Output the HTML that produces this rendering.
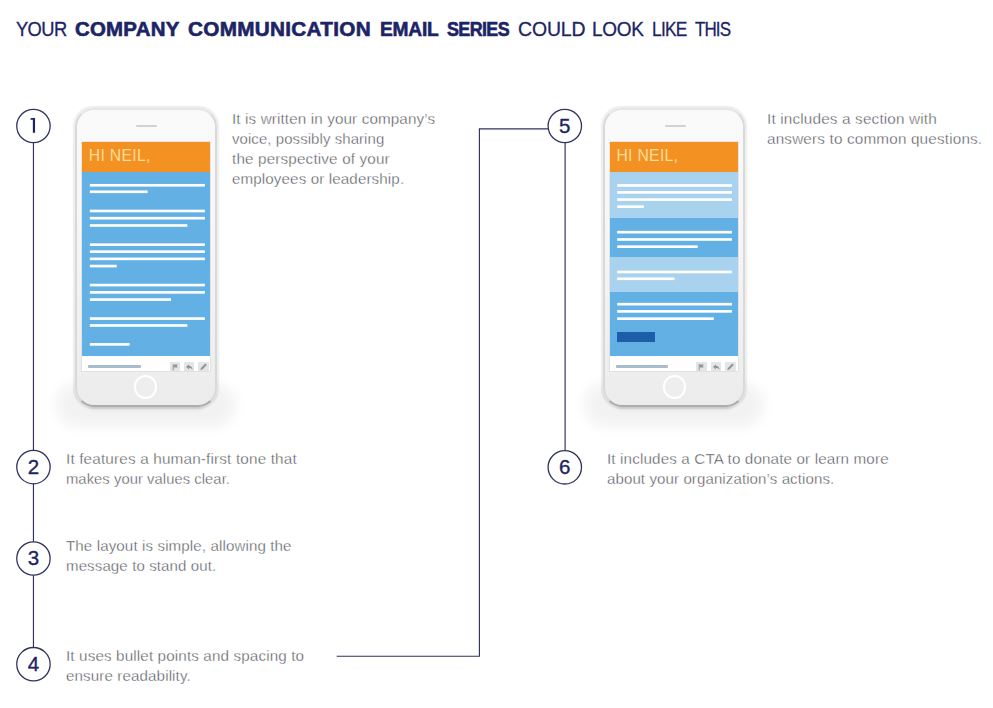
<!DOCTYPE html>
<html><head><meta charset="utf-8"><title>Company Communication Email Series</title>
<style>
html,body{margin:0;padding:0;background:#fff;}
body{width:993px;height:708px;position:relative;overflow:hidden;font-family:"Liberation Sans",sans-serif;}
.t{position:absolute;white-space:nowrap;line-height:1;transform-origin:0 50%;}
.b{color:#4a4c52;font-size:14.5px;-webkit-text-stroke:0.36px #fff;}
.h{color:#1c2465;font-size:19.8px;}
.ln{position:absolute;background:#1c2465;}
.c{position:absolute;width:33.2px;height:33.2px;border:1.3px solid #1c2465;border-radius:50%;box-sizing:content-box;background:#fff;
   color:#1c2465;font-size:20.5px;text-align:center;line-height:33.6px;}
.phone{position:absolute;width:142px;height:299px;}
.phone .shadow{position:absolute;left:-8px;right:-8px;top:286px;height:22px;border-radius:10px;background:rgba(0,0,0,.05);box-shadow:0 0 13px 11px rgba(0,0,0,.05);}
.phone .shadow2{position:absolute;left:14px;right:14px;top:288px;height:9px;border-radius:4px;box-shadow:0 3px 5px 0 rgba(0,0,0,.17);}
.phone .bodyp{position:absolute;left:0;top:0;right:0;bottom:0;border-radius:19px;box-sizing:border-box;
   border:2px solid;border-width:2px 2px 2.6px 2px;border-color:#e6e6e6 #d9d9d9 #adadad #d9d9d9;background:linear-gradient(#fafafa 0%,#f6f6f6 40%,#ececec 100%);box-shadow:0 0 1.2px 1.3px rgba(0,0,0,.075);}
.phone .spk{position:absolute;left:61px;top:17.6px;width:21px;height:1.3px;background:#d2d2d2;border-radius:1px;}
.phone .scr{position:absolute;left:7.0px;top:33.9px;width:128px;height:229.4px;background:#fff;overflow:hidden;box-shadow:0 0 0 .6px #dadada;}
.phone .home{position:absolute;left:59.2px;top:267.4px;width:19.6px;height:19.6px;border:2.2px solid #fff;border-radius:50%;background:#eeeeee;}
.or{position:absolute;left:0;top:0;width:100%;height:30px;background:#f39222;}
.hi{position:absolute;left:7.3px;top:6.8px;font-size:15.7px;line-height:1;color:#fbdd9c;white-space:nowrap;}
.w{position:absolute;height:2.8px;background:#fff;}
.sec{position:absolute;left:0;width:100%;}
.ft{position:absolute;left:0;top:214px;width:100%;height:15.4px;background:#fff;}
.ft i{position:absolute;display:block;}
</style></head><body>
<div class="t h" style="left:16.4px;top:19.7px;letter-spacing:-0.65px;transform:scaleX(0.9258);-webkit-text-stroke:0.3px #1c2465;">YOUR</div>
<div class="t h" style="left:75.0px;top:19.7px;letter-spacing:0.23px;transform:scaleX(1.0327);font-weight:bold;-webkit-text-stroke:0.6px #1c2465;">COMPANY</div>
<div class="t h" style="left:188.3px;top:19.7px;letter-spacing:0.28px;transform:scaleX(1.0472);font-weight:bold;-webkit-text-stroke:0.6px #1c2465;">COMMUNICATION</div>
<div class="t h" style="left:379.7px;top:19.7px;letter-spacing:-0.22px;transform:scaleX(0.9676);font-weight:bold;-webkit-text-stroke:0.6px #1c2465;">EMAIL</div>
<div class="t h" style="left:447.0px;top:19.7px;letter-spacing:-0.66px;transform:scaleX(0.9039);font-weight:bold;-webkit-text-stroke:0.6px #1c2465;">SERIES</div>
<div class="t h" style="left:517.7px;top:19.7px;letter-spacing:-0.13px;transform:scaleX(0.9823);-webkit-text-stroke:0.3px #1c2465;">COULD</div>
<div class="t h" style="left:592.4px;top:19.7px;letter-spacing:-0.32px;transform:scaleX(0.9609);-webkit-text-stroke:0.3px #1c2465;">LOOK</div>
<div class="t h" style="left:652.3px;top:19.7px;letter-spacing:-0.87px;transform:scaleX(0.8761);-webkit-text-stroke:0.3px #1c2465;">LIKE</div>
<div class="t h" style="left:695.2px;top:19.7px;letter-spacing:-1.05px;transform:scaleX(0.8592);-webkit-text-stroke:0.3px #1c2465;">THIS</div>
<div class="t b" style="left:231.7px;top:111.9px;letter-spacing:0.126px;transform:scaleX(1.0486);">It is written in your company’s</div>
<div class="t b" style="left:231.7px;top:132.0px;letter-spacing:0.084px;transform:scaleX(1.0303);">voice, possibly sharing</div>
<div class="t b" style="left:231.7px;top:151.9px;letter-spacing:0.142px;transform:scaleX(1.0525);">the perspective of your</div>
<div class="t b" style="left:231.7px;top:171.9px;letter-spacing:0.126px;transform:scaleX(1.0436);">employees or leadership.</div>
<div class="t b" style="left:767.1px;top:112.2px;letter-spacing:0.143px;transform:scaleX(1.0562);">It includes a section with</div>
<div class="t b" style="left:767.1px;top:132.2px;letter-spacing:0.161px;transform:scaleX(1.0533);">answers to common questions.</div>
<div class="t b" style="left:607.4px;top:451.8px;letter-spacing:0.131px;transform:scaleX(1.0487);">It includes a CTA to donate or learn more</div>
<div class="t b" style="left:607.4px;top:471.7px;letter-spacing:0.100px;transform:scaleX(1.0371);">about your organization’s actions.</div>
<div class="t b" style="left:65.7px;top:452.2px;letter-spacing:0.143px;transform:scaleX(1.0561);">It features a human-first tone that</div>
<div class="t b" style="left:65.7px;top:472.0px;letter-spacing:0.055px;transform:scaleX(1.0190);">makes your values clear.</div>
<div class="t b" style="left:65.7px;top:539.2px;letter-spacing:0.111px;transform:scaleX(1.0418);">The layout is simple, allowing the</div>
<div class="t b" style="left:65.7px;top:558.9px;letter-spacing:0.110px;transform:scaleX(1.0374);">message to stand out.</div>
<div class="t b" style="left:65.7px;top:649.2px;letter-spacing:0.127px;transform:scaleX(1.0488);">It uses bullet points and spacing to</div>
<div class="t b" style="left:65.7px;top:669.1px;letter-spacing:0.116px;transform:scaleX(1.0434);">ensure readability.</div>
<svg width="993" height="708" viewBox="0 0 993 708" style="position:absolute;left:0;top:0" fill="none" stroke="#30335f" stroke-width="1.15"><path d="M33.45 142.5V647.5"/><path d="M565.12 142.5V450.5"/><path d="M336.7 656.2H479.4V128.8H548.2"/><circle cx="33.45" cy="126.0" r="16.7" stroke-width="1.3" fill="#fff"/><path d="M30.9 118H35.05V132.8H32.85V119.85H30.35Z" fill="#1c2465" stroke="none"/><circle cx="33.45" cy="467.1" r="16.7" stroke-width="1.3" fill="#fff"/><text x="33.45" y="473.90" text-anchor="middle" font-family="Liberation Sans, sans-serif" font-size="20.5" fill="#1c2465" stroke="#1c2465" stroke-width="0.35">2</text><circle cx="33.45" cy="558.5" r="16.7" stroke-width="1.3" fill="#fff"/><text x="33.45" y="565.30" text-anchor="middle" font-family="Liberation Sans, sans-serif" font-size="20.5" fill="#1c2465" stroke="#1c2465" stroke-width="0.35">3</text><circle cx="33.45" cy="664.2" r="16.7" stroke-width="1.3" fill="#fff"/><text x="33.45" y="671.00" text-anchor="middle" font-family="Liberation Sans, sans-serif" font-size="20.5" fill="#1c2465" stroke="#1c2465" stroke-width="0.35">4</text><circle cx="564.8" cy="126.0" r="16.7" stroke-width="1.3" fill="#fff"/><text x="564.8" y="132.80" text-anchor="middle" font-family="Liberation Sans, sans-serif" font-size="20.5" fill="#1c2465" stroke="#1c2465" stroke-width="0.35">5</text><circle cx="564.8" cy="467.3" r="16.7" stroke-width="1.3" fill="#fff"/><text x="564.8" y="474.10" text-anchor="middle" font-family="Liberation Sans, sans-serif" font-size="20.5" fill="#1c2465" stroke="#1c2465" stroke-width="0.35">6</text></svg>
<div class="phone" style="left:74.5px;top:107.7px;"><div class="shadow"></div><div class="shadow2"></div><div class="bodyp"></div><div class="spk"></div><div class="scr"><div class="sec" style="top:0;height:214.4px;background:#63b1e4;"></div><div class="or"></div><div class="hi" style="letter-spacing:0.33px;">HI NEIL,</div><svg width="128" height="215" viewBox="0 0 128 215" style="position:absolute;left:0;top:0" fill="#fff"><rect x="7.85" y="41.95" width="115.0" height="2.65"/><rect x="7.85" y="48.45" width="57.8" height="2.65"/><rect x="7.85" y="67.65" width="115.0" height="2.65"/><rect x="7.85" y="74.85" width="115.0" height="2.65"/><rect x="7.85" y="82.15" width="97.5" height="2.65"/><rect x="7.85" y="101.35" width="115.0" height="2.65"/><rect x="7.85" y="108.35" width="115.0" height="2.65"/><rect x="7.85" y="115.55" width="115.0" height="2.65"/><rect x="7.85" y="122.75" width="26.8" height="2.65"/><rect x="7.85" y="141.75" width="115.0" height="2.65"/><rect x="7.85" y="149.05" width="115.0" height="2.65"/><rect x="7.85" y="156.25" width="81.2" height="2.65"/><rect x="7.85" y="175.25" width="115.0" height="2.65"/><rect x="7.85" y="182.15" width="97.5" height="2.65"/><rect x="7.85" y="201.05" width="39.8" height="2.65"/></svg><div class="ft"><i style="left:6.8px;top:9.8px;width:52.5px;height:2.5px;background:#a9bccb;border-radius:1px;"></i><i style="left:88.2px;top:6.4px;width:10.6px;height:9px;background:#e3e5e7;"><svg width="10.6" height="9" viewBox="0 0 10.6 9" style="display:block"><path d="M3.2 2.2v6.2" stroke="#90959a" stroke-width="1" fill="none"/><path d="M3.6 2.4h4.2l-1 1.5 1 1.5H3.6z" fill="#90959a"/></svg></i><i style="left:102.4px;top:6.4px;width:10.6px;height:9px;background:#e3e5e7;"><svg width="10.6" height="9" viewBox="0 0 10.6 9" style="display:block"><path d="M5 2.3L2 4.9l3 2.6V6c1.7 0 2.7.5 3.6 1.8C8.4 5.4 7.2 4 5 3.8z" fill="#90959a"/></svg></i><i style="left:116.8px;top:6.4px;width:10.6px;height:9px;background:#e3e5e7;"><svg width="10.6" height="9" viewBox="0 0 10.6 9" style="display:block"><path d="M2.4 8l.5-2 4.4-4.4 1.5 1.5L4.4 7.5z" fill="#90959a"/></svg></i></div></div><div class="home"></div></div>
<div class="phone" style="left:603.4px;top:107.7px;"><div class="shadow"></div><div class="shadow2"></div><div class="bodyp"></div><div class="spk" style="left:61.8px"></div><div class="scr" style="left:6.5px"><div class="sec" style="top:0;height:214.4px;background:#63b1e4;"></div><div class="or"></div><div class="sec" style="top:30px;height:46.2px;background:#a9d2ee;"></div><div class="sec" style="top:115.4px;height:35.2px;background:#a9d2ee;"></div><div class="hi" style="left:6.5px;letter-spacing:0.33px;">HI NEIL,</div><svg width="128" height="215" viewBox="0 0 128 215" style="position:absolute;left:0;top:0" fill="#fff"><rect x="7.2" y="42.15" width="114.7" height="2.65"/><rect x="7.2" y="49.05" width="114.7" height="2.65"/><rect x="7.2" y="56.25" width="114.7" height="2.65"/><rect x="7.2" y="63.35" width="26.6" height="2.65"/><rect x="7.2" y="88.85" width="114.7" height="2.65"/><rect x="7.2" y="96.15" width="114.7" height="2.65"/><rect x="7.2" y="103.35" width="80.5" height="2.65"/><rect x="7.2" y="128.65" width="114.7" height="2.65"/><rect x="7.2" y="135.45" width="57.3" height="2.65"/><rect x="7.2" y="160.85" width="114.7" height="2.65"/><rect x="7.2" y="168.05" width="114.7" height="2.65"/><rect x="7.2" y="175.35" width="96.6" height="2.65"/></svg><div style="position:absolute;left:6.7px;top:190.4px;width:38.3px;height:9.6px;background:#1d5ea8;"></div><div class="ft"><i style="left:5.8px;top:9.8px;width:52.5px;height:2.5px;background:#a9bccb;border-radius:1px;"></i><i style="left:86.3px;top:6.4px;width:10.6px;height:9px;background:#e3e5e7;"><svg width="10.6" height="9" viewBox="0 0 10.6 9" style="display:block"><path d="M3.2 2.2v6.2" stroke="#90959a" stroke-width="1" fill="none"/><path d="M3.6 2.4h4.2l-1 1.5 1 1.5H3.6z" fill="#90959a"/></svg></i><i style="left:100.7px;top:6.4px;width:10.6px;height:9px;background:#e3e5e7;"><svg width="10.6" height="9" viewBox="0 0 10.6 9" style="display:block"><path d="M5 2.3L2 4.9l3 2.6V6c1.7 0 2.7.5 3.6 1.8C8.4 5.4 7.2 4 5 3.8z" fill="#90959a"/></svg></i><i style="left:115.1px;top:6.4px;width:10.6px;height:9px;background:#e3e5e7;"><svg width="10.6" height="9" viewBox="0 0 10.6 9" style="display:block"><path d="M2.4 8l.5-2 4.4-4.4 1.5 1.5L4.4 7.5z" fill="#90959a"/></svg></i></div></div><div class="home"></div></div>
</body></html>
